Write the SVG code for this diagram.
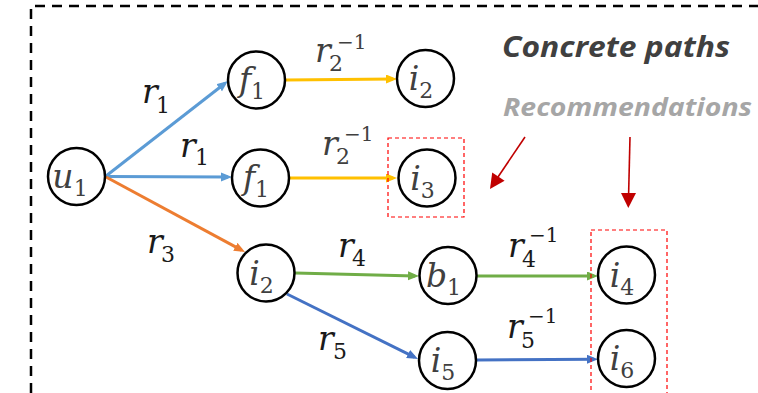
<svg xmlns="http://www.w3.org/2000/svg" width="758" height="393" viewBox="0 0 758 393">
  <style>
    .frame { fill: none; stroke: #000; stroke-width: 2.5; stroke-dasharray: 10 7; }
    .node circle { fill: #fff; stroke: #000; stroke-width: 2.5; }
    .math { font-family: "DejaVu Serif", "Liberation Serif", serif; }
    .var { font-style: italic; font-size: 33px; }
    .sub { font-style: normal; font-size: 22px; }
    .sup { font-style: normal; font-size: 20px; }
    .nlabel { fill: #404040; }
    .elabel { fill: #1a1a1a; }
    .edge { fill: none; stroke-width: 3; }
    .box { fill: none; stroke: #ff0000; stroke-width: 1.2; stroke-dasharray: 4 3; }
    .title { font-family: "Open Sans", "Lato", "Liberation Sans", sans-serif; font-weight: bold; font-style: italic; }
    .pointer { stroke: #c00000; stroke-width: 1.6; fill: none; }
  </style>
  <defs>
    <marker id="ah-lblue" markerUnits="userSpaceOnUse" markerWidth="12" markerHeight="10" refX="7" refY="4.5" orient="auto">
      <path d="M0,0 L11,4.5 L0,9 z" fill="#5b9bd5"/>
    </marker>
    <marker id="ah-orange" markerUnits="userSpaceOnUse" markerWidth="12" markerHeight="10" refX="7" refY="4.5" orient="auto">
      <path d="M0,0 L11,4.5 L0,9 z" fill="#ed7d31"/>
    </marker>
    <marker id="ah-yellow" markerUnits="userSpaceOnUse" markerWidth="12" markerHeight="10" refX="7" refY="4.5" orient="auto">
      <path d="M0,0 L11,4.5 L0,9 z" fill="#ffc000"/>
    </marker>
    <marker id="ah-green" markerUnits="userSpaceOnUse" markerWidth="12" markerHeight="10" refX="7" refY="4.5" orient="auto">
      <path d="M0,0 L11,4.5 L0,9 z" fill="#70ad47"/>
    </marker>
    <marker id="ah-dblue" markerUnits="userSpaceOnUse" markerWidth="12" markerHeight="10" refX="7" refY="4.5" orient="auto">
      <path d="M0,0 L11,4.5 L0,9 z" fill="#4472c4"/>
    </marker>
  </defs>

  <rect width="758" height="393" fill="#fff"/>

  <!-- dashed frame (top and left sides) -->
  <path class="frame" d="M31,393 V6 H758"/>

  <!-- connectors -->
  <g id="connectors">
    <line class="edge" x1="106" y1="176" x2="224.8" y2="83.5" stroke="#5b9bd5" marker-end="url(#ah-lblue)"/>
    <line class="edge" x1="106" y1="176.5" x2="228" y2="177" stroke="#5b9bd5" marker-end="url(#ah-lblue)"/>
    <line class="edge" x1="106" y1="177" x2="241.5" y2="250.1" stroke="#ed7d31" marker-end="url(#ah-orange)"/>
    <line class="edge" x1="286" y1="80" x2="393" y2="79" stroke="#ffc000" marker-end="url(#ah-yellow)"/>
    <line class="edge" x1="289" y1="178" x2="393" y2="178" stroke="#ffc000" marker-end="url(#ah-yellow)"/>
    <line class="edge" x1="295" y1="273" x2="415" y2="275.9" stroke="#70ad47" marker-end="url(#ah-green)"/>
    <line class="edge" x1="477" y1="276" x2="594" y2="276" stroke="#70ad47" marker-end="url(#ah-green)"/>
    <line class="edge" x1="287" y1="294" x2="414.4" y2="357.2" stroke="#4472c4" marker-end="url(#ah-dblue)"/>
    <line class="edge" x1="477" y1="360" x2="594" y2="359.2" stroke="#4472c4" marker-end="url(#ah-dblue)"/>
  </g>

  <!-- edge labels -->
  <g id="edge-labels" class="math elabel">
    <text><tspan class="var" x="142" y="103">r</tspan><tspan class="sub" x="156" y="113">1</tspan></text>
    <text><tspan class="var" x="180" y="157">r</tspan><tspan class="sub" x="195" y="165">1</tspan></text>
    <text fill="#404040"><tspan class="var" x="315" y="62">r</tspan><tspan class="sub" x="329" y="71">2</tspan><tspan class="sup" x="337" y="49">−1</tspan></text>
    <text fill="#404040"><tspan class="var" x="322" y="155">r</tspan><tspan class="sub" x="336" y="164">2</tspan><tspan class="sup" x="344" y="141">−1</tspan></text>
    <text><tspan class="var" x="147" y="253">r</tspan><tspan class="sub" x="161" y="262">3</tspan></text>
    <text><tspan class="var" x="338" y="257">r</tspan><tspan class="sub" x="352" y="266">4</tspan></text>
    <text><tspan class="var" x="318" y="350">r</tspan><tspan class="sub" x="333" y="359">5</tspan></text>
    <text><tspan class="var" x="508" y="257">r</tspan><tspan class="sub" x="522" y="267">4</tspan><tspan class="sup" x="529" y="242">−1</tspan></text>
    <text><tspan class="var" x="507" y="338">r</tspan><tspan class="sub" x="521" y="348">5</tspan><tspan class="sup" x="528" y="323">−1</tspan></text>
  </g>

  <!-- nodes -->
  <g id="u1" class="node">
    <circle cx="76.5" cy="176.5" r="28.5"/>
    <text class="math nlabel" x="70" y="187.5" text-anchor="middle"><tspan class="var">u</tspan><tspan class="sub" dy="8">1</tspan></text>
  </g>
  <g id="f1-upper" class="node">
    <circle cx="256.5" cy="80" r="28.5"/>
    <text class="math nlabel" x="252" y="91" text-anchor="middle"><tspan class="var">f</tspan><tspan class="sub" dy="8">1</tspan></text>
  </g>
  <g id="f1-lower" class="node">
    <circle cx="260.5" cy="178" r="28.5"/>
    <text class="math nlabel" x="256" y="189" text-anchor="middle"><tspan class="var">f</tspan><tspan class="sub" dy="8">1</tspan></text>
  </g>
  <g id="i2-upper" class="node">
    <circle cx="425.5" cy="78.5" r="28.5"/>
    <text class="math nlabel" x="421" y="90" text-anchor="middle"><tspan class="var">i</tspan><tspan class="sub" dy="8">2</tspan></text>
  </g>
  <g id="i3" class="node">
    <circle cx="427" cy="178" r="28.5"/>
    <text class="math nlabel" x="422.5" y="189.5" text-anchor="middle"><tspan class="var">i</tspan><tspan class="sub" dy="8">3</tspan></text>
  </g>
  <g id="i2-lower" class="node">
    <circle cx="266" cy="273" r="28.5"/>
    <text class="math nlabel" x="261.5" y="284.5" text-anchor="middle"><tspan class="var">i</tspan><tspan class="sub" dy="8">2</tspan></text>
  </g>
  <g id="b1" class="node">
    <circle cx="448" cy="275.5" r="28.5"/>
    <text class="math nlabel" x="443.5" y="287" text-anchor="middle"><tspan class="var">b</tspan><tspan class="sub" dy="8">1</tspan></text>
  </g>
  <g id="i4" class="node">
    <circle cx="626.5" cy="275" r="28.5"/>
    <text class="math nlabel" x="622" y="287" text-anchor="middle"><tspan class="var">i</tspan><tspan class="sub" dy="8">4</tspan></text>
  </g>
  <g id="i5" class="node">
    <circle cx="447.5" cy="360.5" r="28.5"/>
    <text class="math nlabel" x="443" y="372" text-anchor="middle"><tspan class="var">i</tspan><tspan class="sub" dy="8">5</tspan></text>
  </g>
  <g id="i6" class="node">
    <circle cx="626.5" cy="358.5" r="28.5"/>
    <text class="math nlabel" x="622" y="370" text-anchor="middle"><tspan class="var">i</tspan><tspan class="sub" dy="8">6</tspan></text>
  </g>

  <!-- recommendation highlights -->
  <rect class="box" x="388" y="138" width="76" height="79"/>
  <rect class="box" x="591" y="230" width="76" height="200"/>

  <!-- captions -->
  <text class="title" x="502" y="57" font-size="29" fill="#404040" textLength="228" lengthAdjust="spacingAndGlyphs">Concrete paths</text>
  <text class="title" x="503" y="116" font-size="25" fill="#a6a6a6" textLength="249" lengthAdjust="spacingAndGlyphs">Recommendations</text>

  <!-- pointers to recommended items -->
  <g id="pointers">
    <line class="pointer" x1="525" y1="137" x2="498" y2="177"/>
    <polygon points="490,189 492.2,172.4 504.6,180.8" fill="#c00000"/>
    <line class="pointer" x1="630" y1="137" x2="628.6" y2="195"/>
    <polygon points="621,193 636,193 628.3,208" fill="#c00000"/>
  </g>
</svg>
